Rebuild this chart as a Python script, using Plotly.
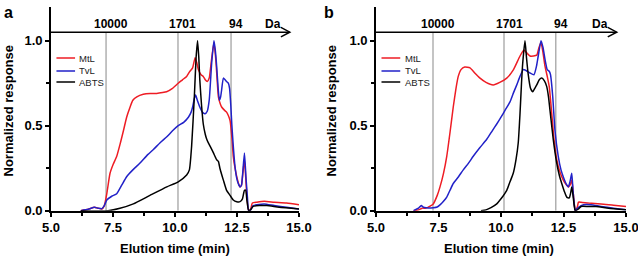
import plotly.graph_objects as go

# ---------------- Panel a ----------------
t_mtl_a = [6.2, 6.5, 6.75, 6.9, 7.05, 7.15, 7.25, 7.38, 7.5, 7.65, 7.8, 7.92, 8.05, 8.19, 8.3, 8.46, 8.72, 9.0,
           9.26, 9.5, 9.66, 9.9, 10.13, 10.3, 10.47, 10.6, 10.71, 10.81, 10.88, 10.94, 11.05, 11.14, 11.22,
           11.3, 11.38, 11.45, 11.57, 11.65, 11.75, 11.82, 11.88, 12.0, 12.08, 12.15, 12.22, 12.3, 12.35,
           12.42, 12.49, 12.56, 12.62, 12.68, 12.73, 12.8, 12.85, 12.9, 12.97, 13.05, 13.12, 13.3, 13.6,
           14.0, 14.5, 15.0]
mtl_a = [0.0, 0.008, 0.02, 0.015, 0.01, 0.03, 0.1, 0.22, 0.27, 0.32, 0.40, 0.47, 0.55, 0.61, 0.65, 0.67, 0.685,
         0.69, 0.69, 0.695, 0.70, 0.72, 0.75, 0.77, 0.79, 0.82, 0.84, 0.90, 0.87, 0.83, 0.80, 0.79, 0.77,
         0.76, 0.78, 0.86, 0.99, 0.88, 0.67, 0.63, 0.61, 0.59, 0.58, 0.56, 0.53, 0.42, 0.32, 0.25, 0.20,
         0.16, 0.14, 0.15, 0.21, 0.30, 0.20, 0.08, 0.0, 0.01, 0.045, 0.05, 0.055, 0.05, 0.045, 0.035]

t_tvl_a = [6.2, 6.5, 6.75, 6.9, 7.05, 7.15, 7.25, 7.45, 7.65, 7.85, 8.05, 8.3, 8.59, 8.9, 9.13, 9.4, 9.67, 9.9,
           10.13, 10.35, 10.54, 10.65, 10.71, 10.78, 10.83, 10.9, 11.0, 11.1, 11.21, 11.3, 11.38, 11.48,
           11.57, 11.62, 11.68, 11.74, 11.79, 11.84, 11.88, 11.95, 12.02, 12.08, 12.15, 12.2, 12.25, 12.29,
           12.35, 12.42, 12.49, 12.55, 12.62, 12.68, 12.73, 12.8, 12.86, 12.92, 12.97, 13.05, 13.15, 13.3,
           13.6, 14.0, 14.5, 15.0]
tvl_a = [0.0, 0.008, 0.02, 0.015, 0.012, 0.03, 0.063, 0.085, 0.10, 0.15, 0.20, 0.24, 0.28, 0.33, 0.36, 0.40,
         0.435, 0.47, 0.50, 0.52, 0.55, 0.58, 0.61, 0.66, 0.68, 0.65, 0.61, 0.58, 0.57, 0.585, 0.65, 0.87,
         1.0, 0.95, 0.85, 0.72, 0.65, 0.67, 0.71, 0.78, 0.77, 0.76, 0.75, 0.72, 0.62, 0.51, 0.38, 0.26,
         0.19, 0.16, 0.14, 0.15, 0.22, 0.34, 0.20, 0.08, 0.0, 0.005, 0.03, 0.035, 0.04, 0.03, 0.02, 0.01]

t_abts_a = [6.2, 7.3, 7.78, 8.32, 8.99, 9.67, 10.13, 10.47, 10.58, 10.67, 10.78, 10.85, 10.91, 10.96, 11.0,
            11.07, 11.14, 11.22, 11.28, 11.34, 11.45, 11.55, 11.68, 11.75, 11.81, 11.95, 12.08, 12.22,
            12.35, 12.49, 12.62, 12.72, 12.8, 12.85, 12.9, 12.97, 13.05, 13.15, 13.4, 13.7, 14.2, 15.0]
abts_a = [0.0, 0.0, 0.014, 0.04, 0.09, 0.14, 0.17, 0.21, 0.24, 0.38, 0.67, 0.90, 1.0, 0.90, 0.77, 0.62,
          0.51, 0.45, 0.42, 0.40, 0.37, 0.34, 0.30, 0.29, 0.25, 0.18, 0.12, 0.09, 0.063, 0.053, 0.053,
          0.07, 0.12, 0.12, 0.06, 0.0, 0.005, 0.025, 0.03, 0.03, 0.02, 0.01]

# ---------------- Panel b ----------------
t_mtl_b = [6.5, 6.7, 6.85, 7.0, 7.29, 7.45, 7.56, 7.7, 7.83, 7.96, 8.09, 8.2, 8.29, 8.4, 8.55, 8.76, 8.95,
           9.16, 9.4, 9.69, 9.95, 10.23, 10.5, 10.76, 10.92, 11.05, 11.16, 11.3, 11.43, 11.52, 11.6, 11.68,
           11.76, 11.85, 11.93, 12.03, 12.12, 12.23, 12.33, 12.43, 12.53, 12.63, 12.7, 12.76, 12.83, 12.88,
           12.93, 12.97, 13.05, 13.1, 13.2, 13.5, 14.0, 14.5, 15.0]
mtl_b = [0.0, 0.005, 0.015, 0.015, 0.04, 0.09, 0.14, 0.22, 0.32, 0.46, 0.61, 0.72, 0.79, 0.83, 0.845, 0.84,
         0.81, 0.78, 0.755, 0.74, 0.755, 0.78, 0.83, 0.91, 0.945, 0.925, 0.91, 0.91, 0.915, 0.96, 0.99,
         0.93, 0.85, 0.79, 0.73, 0.57, 0.42, 0.30, 0.24, 0.20, 0.17, 0.15, 0.14, 0.15, 0.18, 0.12, 0.04,
         0.0, 0.02, 0.05, 0.05, 0.045, 0.04, 0.032, 0.025]

t_tvl_b = [6.5, 6.7, 6.81, 6.9, 7.0, 7.3, 7.45, 7.56, 7.7, 7.83, 7.96, 8.09, 8.3, 8.49, 8.7, 8.89, 9.15, 9.43,
           9.65, 9.83, 10.0, 10.16, 10.36, 10.49, 10.63, 10.76, 10.89, 11.0, 11.16, 11.32, 11.42, 11.49,
           11.6, 11.68, 11.76, 11.85, 11.93, 11.98, 12.07, 12.16, 12.29, 12.4, 12.49, 12.6, 12.69, 12.76,
           12.83, 12.88, 12.93, 12.97, 13.1, 13.3, 13.6, 14.0, 14.5, 15.0]
tvl_b = [0.0, 0.015, 0.03, 0.02, 0.017, 0.018, 0.022, 0.034, 0.055, 0.08, 0.12, 0.16, 0.20, 0.24, 0.28, 0.32,
         0.37, 0.42, 0.47, 0.51, 0.55, 0.59, 0.64, 0.69, 0.74, 0.79, 0.83, 0.825, 0.81, 0.80, 0.85, 0.91,
         1.0, 0.96, 0.89, 0.83, 0.82, 0.80, 0.67, 0.47, 0.32, 0.24, 0.20, 0.16, 0.14, 0.17, 0.22, 0.12,
         0.04, 0.0, 0.02, 0.035, 0.035, 0.025, 0.015, 0.005]

t_abts_b = [9.2, 9.4, 9.6, 9.83, 10.0, 10.23, 10.36, 10.49, 10.6, 10.69, 10.76, 10.82, 10.87, 10.96, 11.02,
            11.09, 11.18, 11.27, 11.35, 11.43, 11.53, 11.63, 11.73, 11.83, 11.9, 11.96, 12.09, 12.23, 12.33,
            12.43, 12.53, 12.63, 12.73, 12.78, 12.83, 12.88, 12.93, 12.97, 13.1, 13.2, 13.5, 13.8, 14.3, 15.0]
abts_b = [0.0, 0.005, 0.018, 0.04, 0.07, 0.12, 0.17, 0.22, 0.30, 0.40, 0.57, 0.75, 0.87, 1.0, 0.90, 0.80,
          0.72, 0.70, 0.72, 0.74, 0.77, 0.78, 0.765, 0.73, 0.67, 0.59, 0.42, 0.28, 0.21, 0.16, 0.115, 0.08,
          0.075, 0.10, 0.14, 0.09, 0.03, 0.0, 0.01, 0.025, 0.025, 0.025, 0.015, 0.005]

# Molecular weight markers
mw_labels = ["10000", "1701", "94"]
mw_times_a = [7.22, 10.12, 12.26]
mw_times_b = [7.28, 10.12, 12.19]

series_names = ["MtL", "TvL", "ABTS"]
colors = ["#ee1c24", "#2121c8", "#000000"]

x_ticks = [5.0, 7.5, 10.0, 12.5, 15.0]
x_ticktext = ["5.0", "7.5", "10.0", "12.5", "15.0"]
x_minor = [6.25, 8.75, 11.25, 13.75]
y_ticks = [0.0, 0.5, 1.0]
y_ticktext = ["0.0", "0.5", "1.0"]
y_minor = [0.25, 0.75]

FONT = "Liberation Sans, Arial, sans-serif"
W, H = 638, 259

fig = go.Figure()

panels = [
    dict(xa="x", ya="y", data=[(t_mtl_a, mtl_a), (t_tvl_a, tvl_a), (t_abts_a, abts_a)], mw=mw_times_a),
    dict(xa="x2", ya="y2", data=[(t_mtl_b, mtl_b), (t_tvl_b, tvl_b), (t_abts_b, abts_b)], mw=mw_times_b),
]

shapes = []
annotations = []
arrow_y = 1.05
for p in panels:
    xa, ya = p["xa"], p["ya"]
    for tm in p["mw"]:
        shapes.append(dict(type="line", xref=xa, yref=ya, x0=tm, x1=tm, y0=0, y1=arrow_y,
                           line=dict(color="#b0b0b0", width=1.5), layer="below"))
    for tm, lab in zip(p["mw"], mw_labels):
        annotations.append(dict(xref=xa, yref=ya, x=tm + 0.2, y=1.10, text="<b>%s</b>" % lab,
                                showarrow=False, font=dict(family=FONT, size=12, color="black"),
                                xanchor="center", yanchor="middle"))
    shapes.append(dict(type="line", xref=xa, yref=ya, x0=5, x1=14.62, y0=arrow_y, y1=arrow_y,
                       line=dict(color="black", width=1.5)))
    shapes.append(dict(type="path", xref=xa, yref=ya,
                       path="M 14.27 1.078 L 14.63 1.05 L 14.27 1.022",
                       line=dict(color="black", width=1.5)))
    annotations.append(dict(xref=xa, yref=ya, x=13.95, y=1.10, text="<b>Da</b>", showarrow=False,
                            font=dict(family=FONT, size=12, color="black"), xanchor="center",
                            yanchor="middle"))
    for i, (nm, c) in enumerate(zip(series_names, colors)):
        yy = [0.898, 0.822, 0.757][i]
        shapes.append(dict(type="line", xref=xa, yref=ya, x0=5.22, x1=5.97, y0=yy, y1=yy,
                           line=dict(color=c, width=1.5)))
        annotations.append(dict(xref=xa, yref=ya, x=6.06, y=yy, text=nm, showarrow=False,
                                font=dict(family=FONT, size=9.5, color="#222"), xanchor="left",
                                yanchor="middle"))
    for (tt, vv), nm, c in zip(p["data"], series_names, colors):
        fig.add_trace(go.Scatter(x=tt, y=vv, mode="lines", name=nm, xaxis=xa, yaxis=ya,
                                 line=dict(color=c, width=1.5, shape="spline", smoothing=0.5),
                                 showlegend=False))

axis_common = dict(showline=True, linecolor="black", linewidth=1.8, ticks="outside", ticklen=4,
                   tickwidth=1.5, tickcolor="black", showgrid=False, zeroline=False, automargin=False,
                   ticklabeloverflow="allow",
                   tickfont=dict(family=FONT, size=13, color="black"))

x_dom_a = [51 / W, 299 / W]
x_dom_b = [376 / W, 626 / W]
y_dom = [(H - 210.7) / H, (H - 6.7) / H]

def xaxis(dom, anchor):
    return dict(axis_common, domain=dom, anchor=anchor, range=[5, 15], tickvals=x_ticks,
                ticktext=["<b>%s</b>" % s for s in x_ticktext],
                minor=dict(tickvals=x_minor, ticks="outside", ticklen=3, tickcolor="black"))

def yaxis(anchor):
    return dict(axis_common, domain=y_dom, anchor=anchor, range=[0, 1.2], tickvals=y_ticks,
                ticktext=["<b>%s</b>" % s for s in y_ticktext],
                minor=dict(tickvals=y_minor, ticks="outside", ticklen=3, tickcolor="black"))

for xc, lab in [(8, "a"), (329, "b")]:
    annotations.append(dict(xref="paper", yref="paper", x=xc / W, y=(H - 12) / H, text="<b>%s</b>" % lab,
                            showarrow=False, font=dict(family=FONT, size=16, color="black"),
                            xanchor="center", yanchor="middle"))
for xc in [175, 499]:
    annotations.append(dict(xref="paper", yref="paper", x=xc / W, y=(H - 248) / H,
                            text="<b>Elution time (min)</b>", showarrow=False,
                            font=dict(family=FONT, size=13, color="black"),
                            xanchor="center", yanchor="middle"))
for xc in [8, 331]:
    annotations.append(dict(xref="paper", yref="paper", x=xc / W, y=(H - 110.5) / H,
                            text="<b>Normalized response</b>", showarrow=False, textangle=-90,
                            font=dict(family=FONT, size=13, color="black"),
                            xanchor="center", yanchor="middle"))

fig.update_layout(
    width=W, height=H,
    margin=dict(l=0, r=0, t=0, b=0, autoexpand=False),
    paper_bgcolor="white", plot_bgcolor="white",
    xaxis=xaxis(x_dom_a, "y"), yaxis=yaxis("x"),
    xaxis2=xaxis(x_dom_b, "y2"), yaxis2=yaxis("x2"),
    shapes=shapes, annotations=annotations,
    showlegend=False,
)

fig.write_html("out.html", config={"displayModeBar": False},
               post_script="document.body.style.margin='0px';document.body.style.padding='0px';"
                           "document.body.style.overflow='hidden';")
